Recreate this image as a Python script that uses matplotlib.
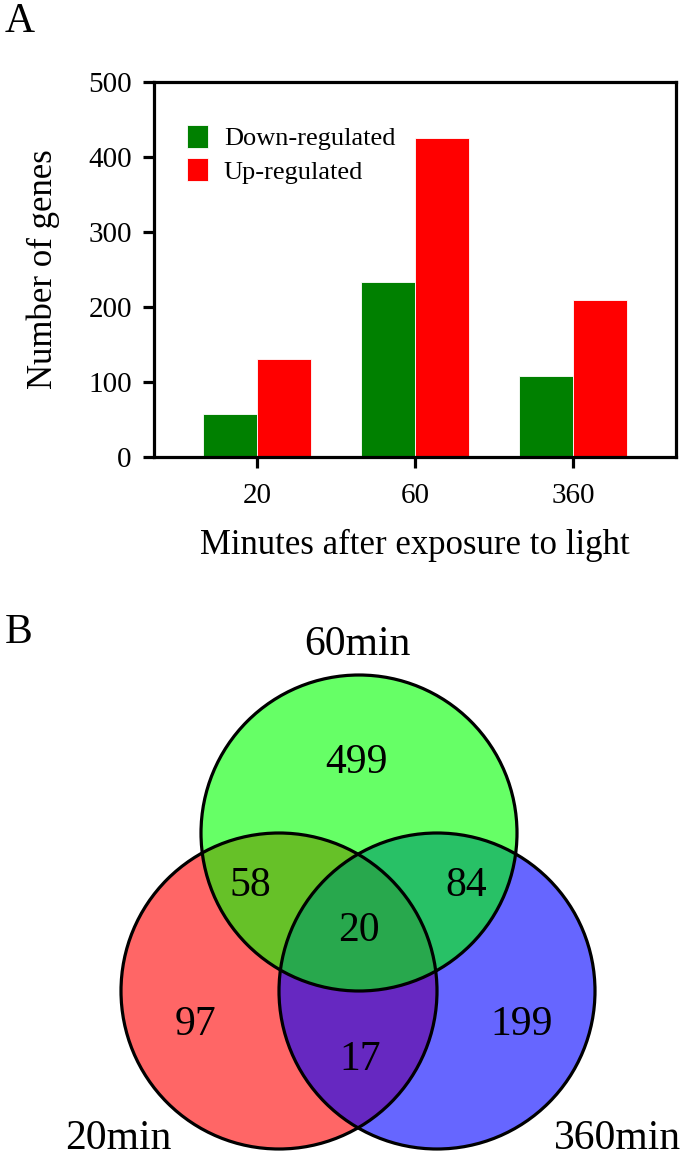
import matplotlib
matplotlib.use("Agg")
import matplotlib.pyplot as plt
from matplotlib.patches import Circle, Patch
import numpy as np

plt.rcParams['font.family'] = ['Liberation Serif', 'DejaVu Serif']

# ---- Data: panel A ----
time_points = ["20", "60", "360"]
down_regulated = [58, 234, 108]
up_regulated = [131, 425, 209]
series_labels = ["Down-regulated", "Up-regulated"]
y_ticks = [0, 100, 200, 300, 400, 500]

# ---- Data: panel B (Venn counts) ----
set_names = ["20min", "60min", "360min"]
only_20, only_60, only_360 = 97, 499, 199
both_20_60, both_60_360, both_20_360 = 58, 84, 17
all_three = 20

W, H = 685, 1156
fig = plt.figure(figsize=(W / 100, H / 100), dpi=100)

# ---------------- Panel A ----------------
ax = fig.add_axes([154 / W, 1 - 457 / H, (676 - 154) / W, (457 - 82) / H])
x = np.arange(len(time_points))
bw = 0.34
ax.bar(x, down_regulated, width=-bw, align='edge', color='#008000',
       edgecolor='white', linewidth=0.6, label=series_labels[0])
ax.bar(x, up_regulated, width=bw, align='edge', color='#FF0000',
       edgecolor='white', linewidth=0.6, label=series_labels[1])
ax.set_xlim(-0.652, 2.652)
ax.set_ylim(0, 500)
ax.set_yticks(y_ticks)
ax.set_xticks(x)
ax.set_xticklabels(time_points)
for s in ax.spines.values():
    s.set_linewidth(2.3)
ax.tick_params(axis='both', direction='out', length=8, width=2.3,
               labelsize=21)
ax.tick_params(axis='y', pad=8)
ax.tick_params(axis='x', pad=11)
ax.set_ylabel("Number of genes", fontsize=25, labelpad=20)
ax.set_xlabel("Minutes after exposure to light", fontsize=25, labelpad=14)
leg = ax.legend(loc='upper left', bbox_to_anchor=((187 - 154) / 522, 1 - (125 - 82) / 375),
                frameon=False, fontsize=19, handlelength=0.8, handleheight=0.95,
                handletextpad=0.6, labelspacing=0.3, borderpad=0, borderaxespad=0)

fig.text(5 / W, 1 - 22 / H, "A", fontsize=30, va='center', ha='left')

# ---------------- Panel B ----------------
vx = fig.add_axes([0, 0, 1, 1])
vx.set_xlim(0, W)
vx.set_ylim(H, 0)
vx.axis('off')
r = 158
c20 = (279, 991)
c60 = (359, 833)
c360 = (437, 991)
for c, col in [(c20, '#FF0000'), (c360, '#0000FF'), (c60, '#00FF00')]:
    vx.add_patch(Circle(c, r, facecolor=col, alpha=0.6, edgecolor='none'))
for c in [c20, c360, c60]:
    vx.add_patch(Circle(c, r, facecolor='none', edgecolor='black', linewidth=2.3))

fs_num = 30
vx.text(357, 763, str(only_60), fontsize=fs_num, ha='center', va='center')
vx.text(250, 886, str(both_20_60), fontsize=fs_num, ha='center', va='center')
vx.text(466, 886, str(both_60_360), fontsize=fs_num, ha='center', va='center')
vx.text(359, 931, str(all_three), fontsize=fs_num, ha='center', va='center')
vx.text(196, 1025, str(only_20), fontsize=fs_num, ha='center', va='center')
vx.text(522, 1025, str(only_360), fontsize=fs_num, ha='center', va='center')
vx.text(360, 1060, str(both_20_360), fontsize=fs_num, ha='center', va='center')
vx.text(357, 645, set_names[1], fontsize=fs_num, ha='center', va='center')
vx.text(118, 1139, set_names[0], fontsize=fs_num, ha='center', va='center')
vx.text(618, 1139, set_names[2], fontsize=fs_num, ha='center', va='center')
vx.text(5, 633, "B", fontsize=30, ha='left', va='center')

fig.savefig("out.png", dpi=100)
